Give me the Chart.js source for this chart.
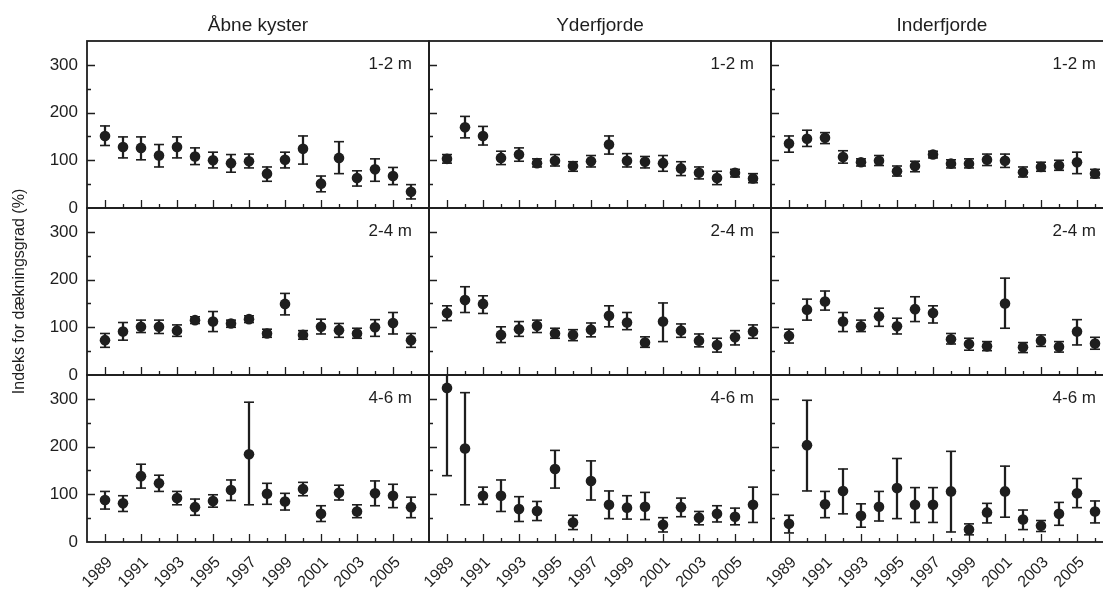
<!DOCTYPE html>
<html>
<head>
<meta charset="utf-8">
<script src="https://cdn.jsdelivr.net/npm/chart.js@4.4.1/dist/chart.umd.min.js"></script>
<style>
  html, body { margin: 0; padding: 0; background: #fff; overflow: hidden; }
  #wrap { position: relative; width: 1103px; height: 594px; overflow: hidden; }
  #wrap canvas { position: absolute; left: 0; top: 0; }
</style>
</head>
<body>
<div id="wrap"></div>
<script>
const years = [1989, 1990, 1991, 1992, 1993, 1994, 1995, 1996, 1997, 1998, 1999, 2000, 2001, 2002, 2003, 2004, 2005, 2006];
const columns = ['Åbne kyster', 'Yderfjorde', 'Inderfjorde'];
const depths = ['1-2 m', '2-4 m', '4-6 m'];
const yTickLabels = [0, 100, 200, 300];
const yearLabels = [1989, 1991, 1993, 1995, 1997, 1999, 2001, 2003, 2005];
const yTitle = 'Indeks for dækningsgrad (%)';

// Åbne kyster
const aabne12   = [151, 128, 126, 110, 128, 108, 100, 94, 98, 72, 101, 124, 51, 105, 63, 81, 67, 34];
const aabne12Lo = [131, 105, 101, 86, 105, 91, 84, 75, 84, 56, 84, 92, 34, 72, 46, 56, 49, 19];
const aabne12Hi = [172, 149, 149, 133, 149, 126, 117, 112, 113, 86, 117, 151, 67, 139, 78, 103, 85, 49];
const aabne24   = [73, 91, 101, 101, 93, 115, 112, 108, 117, 87, 149, 84, 101, 94, 87, 100, 109, 73];
const aabne24Lo = [58, 73, 89, 87, 81, 108, 91, 100, 110, 79, 126, 75, 86, 79, 77, 81, 86, 58];
const aabne24Hi = [87, 110, 115, 115, 105, 122, 133, 115, 124, 96, 171, 93, 117, 108, 98, 116, 131, 87];
const aabne46   = [88, 81, 138, 123, 92, 73, 86, 109, 184, 101, 85, 111, 59, 103, 64, 102, 97, 73];
const aabne46Lo = [69, 64, 113, 106, 78, 56, 73, 87, 78, 79, 67, 97, 43, 88, 51, 76, 72, 51];
const aabne46Hi = [106, 97, 163, 140, 106, 90, 99, 130, 293, 123, 102, 125, 76, 119, 78, 128, 121, 94];

// Yderfjorde
const yder12   = [103, 169, 151, 105, 112, 94, 99, 88, 98, 133, 99, 97, 94, 83, 74, 63, 74, 62];
const yder12Lo = [94, 147, 132, 91, 98, 86, 88, 77, 86, 113, 86, 84, 77, 68, 61, 49, 65, 53];
const yder12Hi = [112, 192, 171, 119, 126, 103, 112, 97, 110, 151, 114, 108, 110, 97, 86, 77, 81, 72];
const yder24   = [130, 157, 149, 84, 96, 103, 87, 84, 95, 124, 110, 68, 112, 93, 72, 63, 79, 91];
const yder24Lo = [114, 131, 129, 68, 81, 89, 77, 72, 80, 101, 95, 58, 70, 79, 59, 48, 63, 77];
const yder24Hi = [145, 185, 166, 101, 112, 115, 98, 95, 109, 145, 131, 80, 151, 107, 86, 77, 93, 105];
const yder46   = [323, 196, 97, 97, 69, 65, 153, 41, 128, 78, 72, 74, 36, 73, 51, 59, 53, 78];
const yder46Lo = [139, 78, 79, 64, 43, 45, 113, 26, 88, 49, 48, 47, 21, 53, 36, 42, 36, 41];
const yder46Hi = [507, 313, 115, 130, 95, 85, 192, 56, 170, 107, 97, 104, 51, 92, 64, 76, 71, 115];

// Inderfjorde
const inder12   = [135, 145, 147, 107, 96, 99, 77, 88, 112, 93, 93, 101, 99, 75, 86, 89, 96, 72];
const inder12Lo = [117, 129, 135, 94, 88, 89, 67, 76, 105, 84, 84, 89, 85, 65, 77, 79, 72, 63];
const inder12Hi = [151, 163, 158, 120, 103, 110, 88, 98, 119, 101, 103, 113, 113, 86, 96, 100, 117, 81];
const inder24   = [82, 137, 154, 112, 102, 123, 102, 138, 130, 75, 65, 60, 150, 58, 72, 59, 91, 66];
const inder24Lo = [67, 115, 136, 91, 91, 102, 86, 112, 109, 65, 52, 51, 98, 47, 60, 48, 63, 54];
const inder24Hi = [96, 159, 176, 131, 115, 140, 119, 164, 145, 87, 77, 70, 203, 68, 84, 70, 116, 79];
const inder46   = [38, 203, 79, 107, 55, 74, 113, 78, 78, 106, 26, 62, 106, 47, 34, 59, 102, 64];
const inder46Lo = [19, 107, 51, 59, 31, 44, 49, 41, 41, 21, 15, 40, 52, 26, 22, 35, 72, 40];
const inder46Hi = [56, 297, 106, 153, 80, 106, 175, 114, 114, 190, 38, 81, 159, 67, 45, 83, 133, 86];

// rows = depth, columns = coast type
const grid = [
  [[aabne12, aabne12Lo, aabne12Hi], [yder12, yder12Lo, yder12Hi], [inder12, inder12Lo, inder12Hi]],
  [[aabne24, aabne24Lo, aabne24Hi], [yder24, yder24Lo, yder24Hi], [inder24, inder24Lo, inder24Hi]],
  [[aabne46, aabne46Lo, aabne46Hi], [yder46, yder46Lo, yder46Hi], [inder46, inder46Lo, inder46Hi]]
];

const INK = '#1e1e1e';
const FONT = '"Liberation Sans", Arial, Helvetica, sans-serif';
Chart.defaults.font.family = FONT;
Chart.defaults.color = INK;

// layout of the panel grid
const CW = 1120, CH = 594;
const LEFT = 87, TOP = 41, PW = 342, PH = 167;
const YAXIS_W = 77;

// frame, inward ticks and depth label for each panel
const panelFrame = {
  id: 'panelFrame',
  afterDatasetsDraw(chart, args, opts) {
    const { ctx, chartArea: a, scales: { x, y } } = chart;
    ctx.save();
    ctx.strokeStyle = INK;
    ctx.lineWidth = 1.3;
    ctx.beginPath();
    years.forEach(yr => {
      const px = Math.round(x.getPixelForValue(yr)) + 0.5;
      const len = yr % 2 ? 8 : 4;
      ctx.moveTo(px, a.bottom);
      ctx.lineTo(px, a.bottom - len);
    });
    for (let v = 50; v <= 300; v += 50) {
      const py = Math.round(y.getPixelForValue(v)) + 0.5;
      const len = v % 100 ? 4 : 8;
      ctx.moveTo(a.left, py);
      ctx.lineTo(a.left + len, py);
    }
    ctx.stroke();
    ctx.lineWidth = 1.8;
    ctx.strokeRect(a.left, a.top, a.right - a.left, a.bottom - a.top);
    ctx.fillStyle = INK;
    ctx.font = '17px ' + FONT;
    ctx.textAlign = 'right';
    ctx.textBaseline = 'middle';
    ctx.fillText(opts.label, a.right - 17, a.top + 23);
    ctx.restore();
  }
};

const wrap = document.getElementById('wrap');

function makePanel(r, c) {
  const [mean, lo, hi] = grid[r][c];
  const plotL = LEFT + PW * c, plotT = TOP + PH * r;
  const plotR = plotL + PW, plotB = plotT + PH;

  const canvas = document.createElement('canvas');
  canvas.width = CW;
  canvas.height = CH;
  canvas.style.width = CW + 'px';
  canvas.style.height = CH + 'px';
  wrap.appendChild(canvas);

  const stems = years.map((yr, i) => ({ x: yr, y: [lo[i], hi[i]] }));
  const caps = years.flatMap((yr, i) => [{ x: yr, y: lo[i] }, { x: yr, y: hi[i] }]);
  const points = years.map((yr, i) => ({ x: yr, y: mean[i] }));

  new Chart(canvas, {
    type: 'scatter',
    data: {
      datasets: [
        { type: 'bar', data: stems, backgroundColor: INK, borderWidth: 0, barThickness: 1.6, order: 3 },
        { type: 'scatter', data: caps, pointStyle: 'line', radius: 5, borderColor: INK, borderWidth: 1.6, order: 2 },
        { type: 'scatter', data: points, pointStyle: 'circle', radius: 5.3, backgroundColor: INK, borderWidth: 0, order: 1 }
      ]
    },
    options: {
      responsive: false,
      devicePixelRatio: 1,
      animation: false,
      events: [],
      layout: {
        padding: {
          left: c === 0 ? LEFT - YAXIS_W : plotL,
          top: r === 0 ? 0 : plotT,
          right: CW - plotR,
          bottom: r === 2 ? 0 : CH - plotB
        }
      },
      scales: {
        x: {
          type: 'linear',
          position: 'bottom',
          min: 1988,
          max: 2007,
          offset: false,
          grid: { display: false, drawTicks: false },
          border: { display: false },
          ticks: {
            display: r === 2,
            stepSize: 1,
            autoSkip: false,
            minRotation: 45,
            maxRotation: 45,
            padding: 11,
            labelOffset: 5,
            font: { size: 16 },
            callback: v => yearLabels.includes(v) ? String(v) : ''
          },
          afterFit: s => {
            s.height = r === 2 ? CH - plotB : 0;
            s.paddingLeft = 0;
            s.paddingRight = 0;
          }
        },
        y: {
          type: 'linear',
          position: 'left',
          min: 0,
          max: 350,
          grid: { display: false, drawTicks: false },
          border: { display: false },
          title: {
            display: c === 0 && r === 1,
            text: yTitle,
            font: { size: 16 },
            padding: 0
          },
          ticks: {
            display: c === 0,
            stepSize: 50,
            padding: 9,
            font: { size: 17 },
            callback: v => yTickLabels.includes(v) ? String(v) : ''
          },
          afterFit: s => {
            s.width = c === 0 ? YAXIS_W : 0;
            s.paddingTop = 0;
            s.paddingBottom = 0;
          }
        }
      },
      plugins: {
        legend: { display: false },
        tooltip: { enabled: false },
        title: {
          display: r === 0,
          text: columns[c],
          fullSize: false,
          font: { size: 19, weight: 'normal' },
          color: INK,
          padding: { top: 14, bottom: 4.2 }
        },
        panelFrame: { label: depths[r] }
      }
    },
    plugins: [panelFrame]
  });
}

for (let r = 0; r < 3; r++) {
  for (let c = 0; c < 3; c++) makePanel(r, c);
}
</script>
</body>
</html>
